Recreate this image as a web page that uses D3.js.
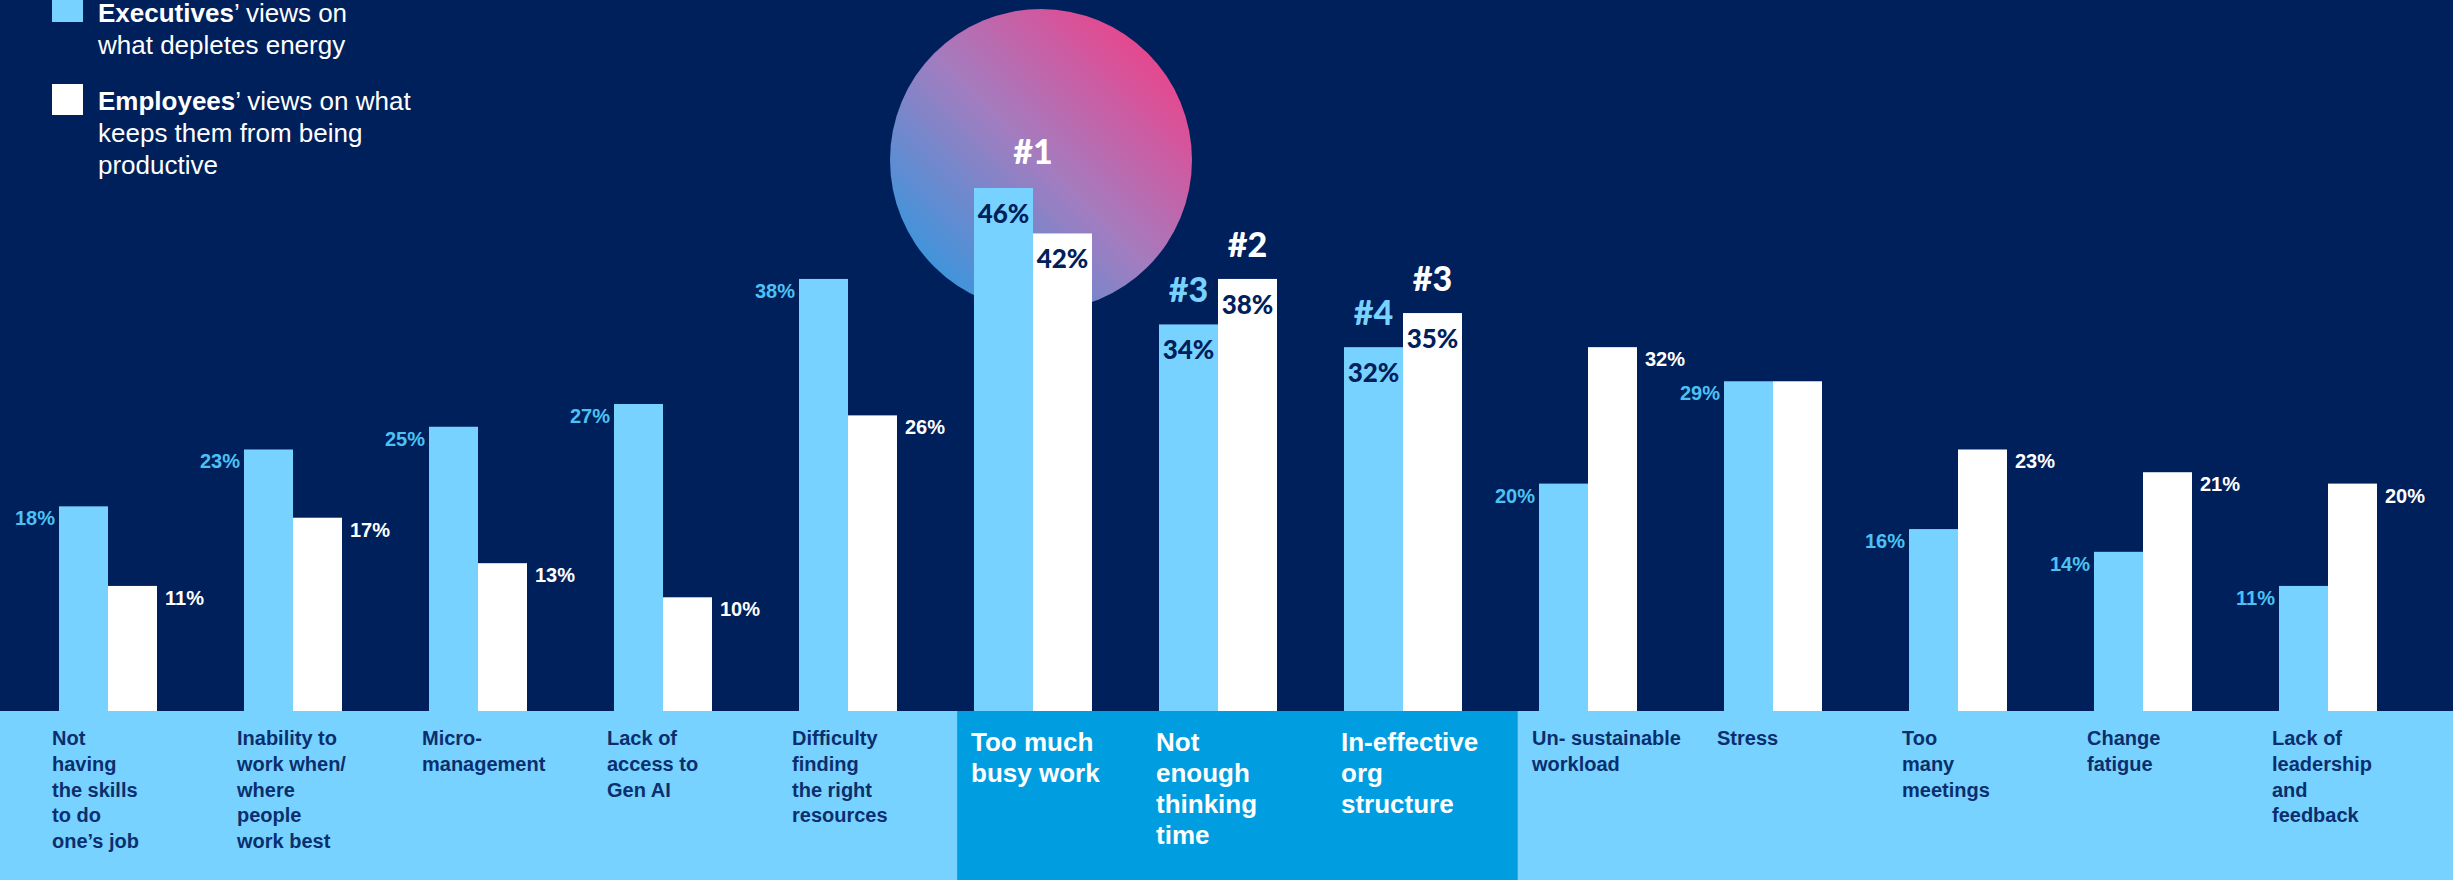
<!DOCTYPE html>
<html>
<head>
    <meta charset='utf-8'>
    <title>What depletes energy</title>
    <style type="text/css">
        body { margin: 0; background: #00205b; }
        svg { display: block; }
        .cat { font-family: "Liberation Sans", Arial, sans-serif; font-weight: bold; }
        .val { font-family: "Liberation Sans", Arial, sans-serif; font-weight: bold; font-size: 20px; }
        .big { font-family: Lato, "Liberation Sans", sans-serif; font-weight: 900; }
        .legend { font-family: "Liberation Sans", Arial, sans-serif; font-size: 26px; fill: #fff; }
    </style>
</head>
<body>
    <script src="https://cdn.jsdelivr.net/npm/d3@7"></script>

    <div id="svgContainer"></div>

    <script type="text/javascript">

        const categoryLines = [
            ["Not", "having", "the skills", "to do", "one\u2019s job"],
            ["Inability to", "work when/", "where", "people", "work best"],
            ["Micro-", "management"],
            ["Lack of", "access to", "Gen AI"],
            ["Difficulty", "finding", "the right", "resources"],
            ["Too much", "busy work"],
            ["Not", "enough", "thinking", "time"],
            ["In-effective", "org", "structure"],
            ["Un- sustainable", "workload"],
            ["Stress"],
            ["Too", "many", "meetings"],
            ["Change", "fatigue"],
            ["Lack of", "leadership", "and", "feedback"]
        ];
        const execValues = [18, 23, 25, 27, 38, 46, 34, 32, 20, 29, 16, 14, 11];
        const empValues  = [11, 17, 13, 10, 26, 42, 38, 35, 32, 29, 23, 21, 20];
        const execRanks  = [null, null, null, null, null, 1, 3, 4, null, null, null, null, null];
        const empRanks   = [null, null, null, null, null, 1, 2, 3, null, null, null, null, null];

        const width = 2453;
        const height = 880;
        const base = 711;

        const navy = "#00205b";
        const light = "#77d2ff";
        const mid = "#009ee0";
        const textNavy = "#0b2f6e";

        const svg = d3.select("#svgContainer").append("svg")
            .attr("width", width)
            .attr("height", height);

        const idx = d3.range(categoryLines.length);
        const isHi = i => execRanks[i] != null || empRanks[i] != null;
        const hiIdx = idx.filter(isHi);

        const x = d3.scalePoint().domain(idx).range([108, 2328]);
        const step = x.step();
        const y = d3.scaleLinear().domain([0, 50]).range([base, base - 50 * 11.37]);
        const barW = i => isHi(i) ? 59 : 49;

        svg.append("rect").attr("width", width).attr("height", height).attr("fill", navy);

        // gradient bubble behind the #1 group
        const grad = svg.append("defs").append("linearGradient")
            .attr("id", "bubble")
            .attr("x1", "10%").attr("y1", "90%")
            .attr("x2", "90%").attr("y2", "10%");
        grad.append("stop").attr("offset", "0%").attr("stop-color", "#3497de");
        grad.append("stop").attr("offset", "50%").attr("stop-color", "#a47cbf");
        grad.append("stop").attr("offset", "100%").attr("stop-color", "#ee4189");

        const top1 = execRanks.indexOf(1);
        svg.append("circle")
            .attr("cx", x(top1) + 8)
            .attr("cy", 160)
            .attr("r", 151)
            .attr("fill", "url(#bubble)");

        // category band
        svg.append("rect")
            .attr("x", 0).attr("y", base)
            .attr("width", width).attr("height", height - base)
            .attr("fill", light);
        svg.append("rect")
            .attr("x", x(hiIdx[0]) - 0.41 * step)
            .attr("y", base)
            .attr("width", x(hiIdx[hiIdx.length - 1]) + 0.62 * step - (x(hiIdx[0]) - 0.41 * step))
            .attr("height", height - base)
            .attr("fill", mid);

        // bars
        const g = svg.append("g");
        g.selectAll("rect.exec")
            .data(idx)
            .join("rect")
            .attr("class", "exec")
            .attr("x", i => x(i) - barW(i))
            .attr("y", i => y(execValues[i]))
            .attr("width", barW)
            .attr("height", i => base - y(execValues[i]))
            .attr("fill", light);
        g.selectAll("rect.emp")
            .data(idx)
            .join("rect")
            .attr("class", "emp")
            .attr("x", i => x(i))
            .attr("y", i => y(empValues[i]))
            .attr("width", barW)
            .attr("height", i => base - y(empValues[i]))
            .attr("fill", "#fff");

        // value labels beside normal bars
        const normal = idx.filter(i => !isHi(i));
        g.selectAll("text.ev")
            .data(normal)
            .join("text")
            .attr("class", "val")
            .attr("x", i => x(i) - barW(i) - 4)
            .attr("y", i => y(execValues[i]) + 19)
            .attr("text-anchor", "end")
            .attr("fill", "#4cc2f4")
            .text(i => execValues[i] + "%");
        g.selectAll("text.mv")
            .data(normal.filter(i => empValues[i] !== execValues[i]))
            .join("text")
            .attr("class", "val")
            .attr("x", i => x(i) + barW(i) + 8)
            .attr("y", i => y(empValues[i]) + 19)
            .attr("fill", "#fff")
            .text(i => empValues[i] + "%");

        // value labels inside highlighted bars
        g.selectAll("text.ein")
            .data(hiIdx)
            .join("text")
            .attr("class", "big")
            .attr("font-size", 26)
            .attr("x", i => x(i) - barW(i) / 2)
            .attr("y", i => y(execValues[i]) + 35)
            .attr("text-anchor", "middle")
            .attr("fill", navy)
            .text(i => execValues[i] + "%");
        g.selectAll("text.min")
            .data(hiIdx)
            .join("text")
            .attr("class", "big")
            .attr("font-size", 26)
            .attr("x", i => x(i) + barW(i) / 2)
            .attr("y", i => y(empValues[i]) + 35)
            .attr("text-anchor", "middle")
            .attr("fill", navy)
            .text(i => empValues[i] + "%");

        // rank badges
        const ranks = [];
        hiIdx.forEach(i => {
            if (execRanks[i] === empRanks[i]) {
                ranks.push({ x: x(i), y: y(Math.max(execValues[i], empValues[i])) - 24, t: "#" + execRanks[i], c: "#fff" });
            } else {
                ranks.push({ x: x(i) - barW(i) / 2, y: y(execValues[i]) - 22, t: "#" + execRanks[i], c: light });
                ranks.push({ x: x(i) + barW(i) / 2, y: y(empValues[i]) - 22, t: "#" + empRanks[i], c: "#fff" });
            }
        });
        g.selectAll("text.rank")
            .data(ranks)
            .join("text")
            .attr("class", "big")
            .attr("font-size", 34)
            .attr("x", d => d.x)
            .attr("y", d => d.y)
            .attr("text-anchor", "middle")
            .attr("fill", d => d.c)
            .text(d => d.t);

        // category labels
        const cat = svg.append("g").selectAll("text")
            .data(idx)
            .join("text")
            .attr("class", "cat")
            .attr("font-size", i => isHi(i) ? 26 : 20)
            .attr("fill", i => isHi(i) ? "#fff" : textNavy)
            .attr("x", i => x(i) - barW(i) - (isHi(i) ? 3 : 7))
            .attr("y", i => isHi(i) ? 751 : 745);
        cat.selectAll("tspan")
            .data(i => categoryLines[i].map((t, k) => ({ t, k, hi: isHi(i), x: x(i) - barW(i) - (isHi(i) ? 3 : 7) })))
            .join("tspan")
            .attr("x", d => d.x)
            .attr("dy", d => d.k === 0 ? 0 : (d.hi ? 31 : 25.8))
            .text(d => d.t);

        // legend
        const legend = svg.append("g");
        legend.append("rect").attr("x", 52).attr("y", -9).attr("width", 31).attr("height", 31).attr("fill", light);
        legend.append("rect").attr("x", 52).attr("y", 84).attr("width", 31).attr("height", 31).attr("fill", "#fff");

        const l1 = legend.append("text").attr("class", "legend").attr("x", 98).attr("y", 22);
        l1.append("tspan").attr("font-weight", "bold").text("Executives");
        l1.append("tspan").text("\u2019 views on");
        legend.append("text").attr("class", "legend").attr("x", 98).attr("y", 54).text("what depletes energy");

        const l2 = legend.append("text").attr("class", "legend").attr("x", 98).attr("y", 110);
        l2.append("tspan").attr("font-weight", "bold").text("Employees");
        l2.append("tspan").text("\u2019 views on what");
        legend.append("text").attr("class", "legend").attr("x", 98).attr("y", 142).text("keeps them from being");
        legend.append("text").attr("class", "legend").attr("x", 98).attr("y", 174).text("productive");

    </script>
</body>
</html>
